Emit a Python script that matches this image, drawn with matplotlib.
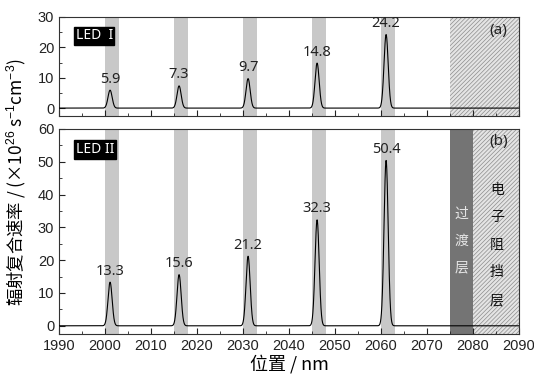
import numpy as np
import matplotlib.pyplot as plt
from matplotlib.ticker import MultipleLocator

plt.rcParams['font.family'] = ['Liberation Sans', 'Noto Sans CJK SC', 'DejaVu Sans']
plt.rcParams['mathtext.fontset'] = 'custom'
plt.rcParams['mathtext.rm'] = 'Liberation Sans'
plt.rcParams['mathtext.it'] = 'Liberation Sans'
plt.rcParams['hatch.linewidth'] = 0.5

# 数据
peak_pos = [2001.1, 2016.1, 2031.1, 2046.1, 2061.1]
well_start = [2000, 2015, 2030, 2045, 2060]
well_width = 3
led1_peaks = [5.9, 7.3, 9.7, 14.8, 24.2]
led2_peaks = [13.3, 15.6, 21.2, 32.3, 50.4]
peak_sigma = 0.45

x = np.linspace(1990, 2090, 4001)


def rate_curve(heights):
    y = np.zeros_like(x)
    for p, h in zip(peak_pos, heights):
        y += h * np.exp(-0.5 * ((x - p) / peak_sigma) ** 2)
    return y


def vertical_text(ax, xc, yc, chars, dy, **kw):
    # 逐字竖排
    n = len(chars)
    for i, c in enumerate(chars):
        ax.text(xc, yc + (n - 1) / 2 * dy - i * dy, c, ha='center', va='center',
                family='Noto Sans CJK SC', zorder=5, **kw)


fig = plt.figure(figsize=(5.34, 3.76), dpi=100)
ax1 = fig.add_axes([0.1105, 0.6915, 0.8615, 0.2635])
ax2 = fig.add_axes([0.1105, 0.1117, 0.8615, 0.5453])

panels = [(ax1, led1_peaks, (-2.6, 30), 10, 'LED  I', '(a)', 0.81, 0.86),
          (ax2, led2_peaks, (-2.5, 60), 10, 'LED II', '(b)', 0.90, 0.94)]

for ax, peaks, ylim, step, name, tag, yname, ytag in panels:
    for s in well_start:
        ax.axvspan(s, s + well_width, color='#c8c8c8', lw=0, zorder=0)
    ax.plot(x, rate_curve(peaks), color='black', lw=0.8, zorder=3)
    for p, h in zip(peak_pos, peaks):
        ax.annotate(f'{h}', (p, h), xytext=(0, 2.5), textcoords='offset points',
                    ha='center', va='bottom', fontsize=10.5, family='Noto Sans',
                    color='#222222')
    ax.set_xlim(1990, 2090)
    ax.set_ylim(*ylim)
    ax.xaxis.set_major_locator(MultipleLocator(10))
    ax.xaxis.set_minor_locator(MultipleLocator(5))
    ax.yaxis.set_major_locator(MultipleLocator(step))
    ax.yaxis.set_minor_locator(MultipleLocator(step / 2))
    ax.tick_params(which='both', direction='in', labelsize=10.5, colors='#222222')
    ax.tick_params(which='major', length=4)
    ax.tick_params(which='minor', length=2.5)
    for sp in ax.spines.values():
        sp.set_linewidth(0.8)
        sp.set_color('#333333')
    ax.text(0.036, yname, name, transform=ax.transAxes, color='white', fontsize=10,
            fontweight='bold', family='Noto Sans', va='center', ha='left',
            bbox=dict(boxstyle='square,pad=0.12', fc='black', ec='black'))
    ax.text(0.975, ytag, tag, transform=ax.transAxes, fontsize=11, family='Noto Sans',
            ha='right', va='center', color='#222222', zorder=5)

# 顶部：阻挡层阴影
ax1.axvspan(2075, 2090, facecolor='#e4e4e4', edgecolor='#8c8c8c', hatch='////////', lw=0, zorder=1)
ax1.tick_params(labelbottom=False)

# 底部：过渡层 + 电子阻挡层
ax2.axvspan(2075, 2080, color='#747474', lw=0, zorder=1)
ax2.axvspan(2080, 2090, facecolor='#e4e4e4', edgecolor='#8c8c8c', hatch='////////', lw=0, zorder=1)
vertical_text(ax2, 2077.5, 26, '过渡层', 8.2, fontsize=10, color='#e6e6e6')
vertical_text(ax2, 2085.2, 24.7, '电子阻挡层', 8.4, fontsize=10, color='#111111')

ax2.set_xlabel('位置 / nm', fontsize=13, family=['Noto Sans CJK SC', 'DejaVu Sans'], labelpad=1)
fig.text(0.03, 0.515, '辐射复合速率 / (×10$^{26}$ s$^{-1}$cm$^{-3}$)', rotation=90,
         ha='center', va='center', fontsize=12.5, family=['Noto Sans CJK SC', 'DejaVu Sans'])

fig.savefig('out.png', dpi=100)
